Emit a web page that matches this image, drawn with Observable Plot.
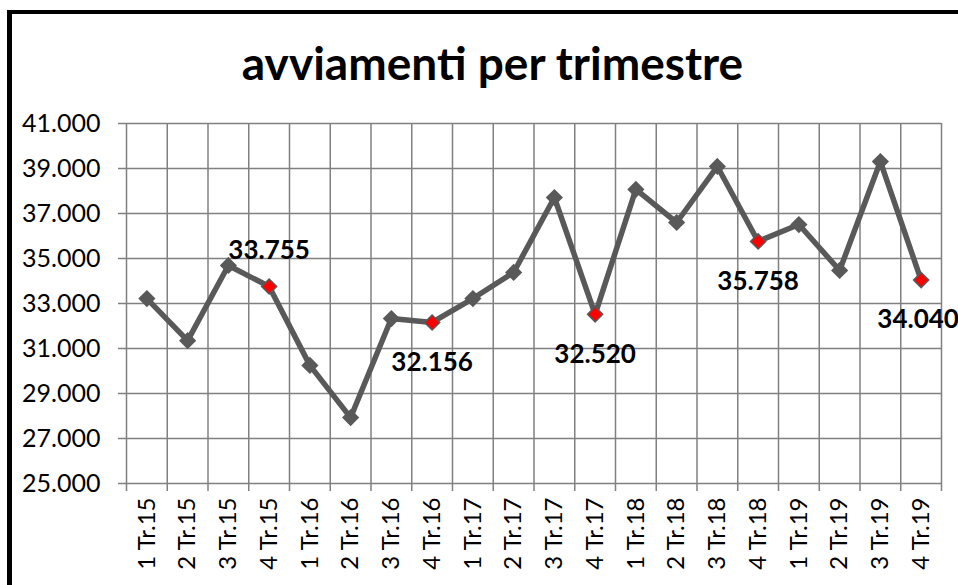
<!DOCTYPE html>
<html>
<head>
<meta charset="utf-8">
<script src="https://cdn.jsdelivr.net/npm/d3@7"></script>
<script src="https://cdn.jsdelivr.net/npm/@observablehq/plot@0.6"></script>
<style>
  html, body { margin: 0; padding: 0; background: #fff; }
  body { width: 958px; height: 585px; overflow: hidden; position: relative; font-family: Lato, "Open Sans", sans-serif; }
  #frame { position: absolute; left: 7px; top: 10px; width: 1000px; height: 620px;
           border-left: 5px solid #000; border-top: 4px solid #000; box-sizing: border-box; }
  #title { position: absolute; left: 0; top: 35px; width: 985px; text-align: center;
           font-family: Lato, sans-serif; font-weight: bold; font-size: 46px; line-height: 56px; color: #000; }
  #chart { position: absolute; left: 0; top: 100px; }
</style>
</head>
<body>
<div id="frame"></div>
<div id="title">avviamenti per trimestre</div>
<div id="chart"></div>
<script>
const categories = ["1 Tr.15","2 Tr.15","3 Tr.15","4 Tr.15","1 Tr.16","2 Tr.16","3 Tr.16","4 Tr.16",
  "1 Tr.17","2 Tr.17","3 Tr.17","4 Tr.17","1 Tr.18","2 Tr.18","3 Tr.18","4 Tr.18",
  "1 Tr.19","2 Tr.19","3 Tr.19","4 Tr.19"];
const values = [33220, 31350, 34690, 33755, 30250, 27930, 32330, 32156,
  33220, 34380, 37710, 32520, 38070, 36600, 39090, 35758,
  36510, 34470, 39310, 34040];
const yTicks = [25000, 27000, 29000, 31000, 33000, 35000, 37000, 39000, 41000];

const data = categories.map((c, i) => ({i, cat: c, value: values[i], q4: c.startsWith("4")}));
const q4 = data.filter(d => d.q4);
const fmt = v => d3.format(",.0f")(v).replace(/,/g, ".");
const boundaries = d3.range(categories.length + 1).map(k => k - 0.5);
const last = q4.length - 1;

const labelStyle = {x: "i", y: "value", text: d => fmt(d.value), fontSize: 26, fontWeight: "bold", fill: "#000"};

const plot = Plot.plot({
  width: 958,
  height: 485,
  marginTop: 23,
  marginBottom: 102,
  marginLeft: 126,
  marginRight: 17,
  style: {fontFamily: "Lato, sans-serif", color: "#000", background: "transparent"},
  x: {type: "linear", domain: [-0.5, categories.length - 0.5]},
  y: {domain: [25000, 41000]},
  marks: [
    Plot.ruleY(yTicks, {stroke: "#808080", strokeWidth: 1.5, strokeOpacity: 1, insetLeft: -8}),
    Plot.ruleX(boundaries, {stroke: "#808080", strokeWidth: 1.5, strokeOpacity: 1, insetBottom: -8}),
    Plot.axisY({ticks: yTicks, tickFormat: fmt, tickSize: 0, tickPadding: 26, fontSize: 25, label: null}),
    Plot.axisX({ticks: d3.range(categories.length), tickFormat: i => categories[i], tickRotate: -90,
      tickSize: 0, tickPadding: 14, fontSize: 24, label: null}),
    Plot.line(data, {x: "i", y: "value", stroke: "#595959", strokeWidth: 5.5}),
    Plot.dot(data, {x: "i", y: "value", symbol: "diamond2", r: 6.8,
      fill: d => d.q4 ? "#ff0000" : "#595959", stroke: "#595959", strokeWidth: 1.5}),
    Plot.text(q4.filter((d, k) => k === 0), {...labelStyle, dy: -36}),
    Plot.text(q4.filter((d, k) => k > 0 && k < last), {...labelStyle, dy: 40}),
    Plot.text(q4.filter((d, k) => k === last), {...labelStyle, dy: 40, dx: -3})
  ]
});
document.getElementById("chart").appendChild(plot);
</script>
</body>
</html>
